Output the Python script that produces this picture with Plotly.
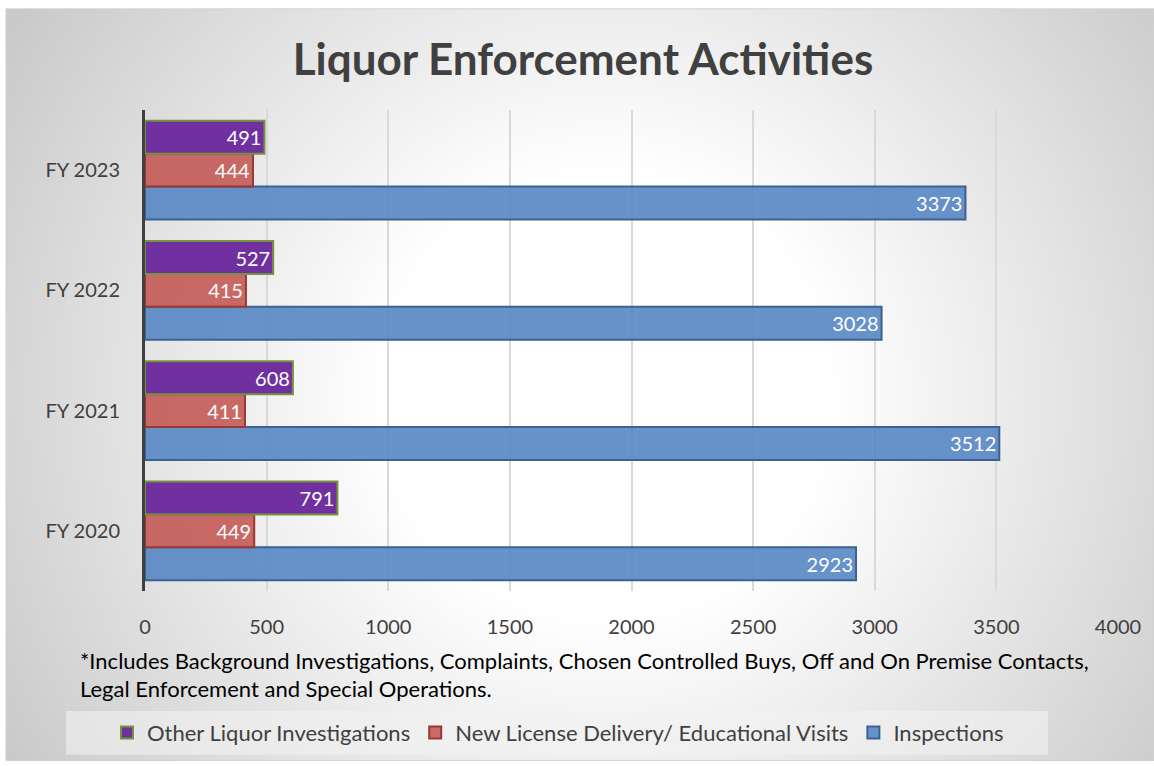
import base64
import plotly.graph_objects as go

# ---- data ----
categories = ["FY 2020", "FY 2021", "FY 2022", "FY 2023"]
inspections = [2923, 3512, 3028, 3373]
new_license_visits = [449, 411, 415, 444]
other_investigations = [791, 608, 527, 491]
x_ticks = [0, 500, 1000, 1500, 2000, 2500, 3000, 3500, 4000]

# ---- geometry (pixels) ----
W, H = 1154, 766
ML, MR, MT, MB = 145, 36, 110, 171
PW, PH = W - ML - MR, H - MT - MB


def px(x):
    return (x - ML) / PW


def py(y):
    return (H - MB - y) / PH


FONT = "Lato, 'Open Sans', sans-serif"
TXT = "#404040"

# radial-gradient chart background as an inline SVG
bw, bh = W - 6, H - 8
svg = (
    f'<svg xmlns="http://www.w3.org/2000/svg" width="{bw}" height="{bh}" '
    f'viewBox="0 0 {bw} {bh}" preserveAspectRatio="none">'
    '<defs><radialGradient id="g" gradientUnits="userSpaceOnUse" '
    f'cx="600" cy="390" r="740">'
    '<stop offset="0" stop-color="#ffffff"/>'
    '<stop offset="0.3" stop-color="#ffffff"/>'
    '<stop offset="1" stop-color="#c5c5c5"/>'
    '</radialGradient></defs>'
    f'<rect width="{bw}" height="{bh}" fill="url(#g)"/></svg>'
)
bg_uri = "data:image/svg+xml;base64," + base64.b64encode(svg.encode()).decode()

series = [
    ("Inspections", inspections, "rgba(88,134,196,0.9)", "#3B6290"),
    ("New License Delivery/ Educational Visits", new_license_visits,
     "rgba(196,86,82,0.88)", "#9A3835"),
    ("Other Liquor Investigations", other_investigations, "#7030A0", "#77933C"),
]

fig = go.Figure()
for name, vals, fill, edge in series:
    fig.add_trace(go.Bar(
        name=name,
        y=categories,
        x=vals,
        orientation="h",
        marker=dict(color=fill, line=dict(color=edge, width=2)),
        text=[str(v) for v in vals],
        textposition="inside",
        insidetextanchor="end",
        textangle=0,
        textfont=dict(family=FONT, size=20, color="white"),
        cliponaxis=False,
    ))

fig.update_layout(
    width=W, height=H,
    margin=dict(l=ML, r=MR, t=MT, b=MB),
    paper_bgcolor="white",
    plot_bgcolor="rgba(0,0,0,0)",
    barmode="group",
    bargap=0.18,
    bargroupgap=0,
    font=dict(family=FONT, color=TXT),
    title=dict(
        text="<b>Liquor Enforcement Activities</b>",
        font=dict(family=FONT, size=44, color=TXT),
        x=px(583), xref="paper", xanchor="center",
        y=1 - 60 / H, yref="container", yanchor="middle",
    ),
    xaxis=dict(
        range=[0, 4000],
        tickvals=x_ticks,
        ticktext=[str(t) for t in x_ticks],
        showgrid=True, gridcolor="#D9D9D9", gridwidth=2,
        zeroline=False, showline=False,
        tickfont=dict(family=FONT, size=20, color=TXT),
        ticklabelstandoff=22,
    ),
    yaxis=dict(
        categoryorder="array", categoryarray=categories,
        showgrid=False, zeroline=False,
        showline=True, linecolor="#404040", linewidth=3,
        tickfont=dict(family=FONT, size=20, color=TXT),
        ticklabelstandoff=18,
    ),
    legend=dict(
        orientation="h",
        traceorder="reversed",
        x=px(558), xanchor="center",
        y=py(738), yanchor="middle",
        bgcolor="rgba(0,0,0,0)",
        font=dict(family=FONT, size=22, color=TXT),
    ),
    images=[dict(
        source=bg_uri, xref="paper", yref="paper",
        x=px(6), y=py(8), sizex=bw / PW, sizey=bh / PH,
        xanchor="left", yanchor="top", sizing="stretch", layer="below",
    )],
    shapes=[
        dict(type="rect", xref="paper", yref="paper",
             x0=px(6), x1=px(W), y0=py(8), y1=py(H),
             line=dict(color="#D0D0D0", width=1), fillcolor="rgba(0,0,0,0)",
             layer="below"),
        dict(type="rect", xref="paper", yref="paper",
             x0=px(66), x1=px(1048), y0=py(716), y1=py(760),
             line=dict(width=0), fillcolor="rgba(242,242,242,0.6)",
             layer="below"),
    ],
    annotations=[
        dict(text="*Includes Background Investigations, Complaints, Chosen Controlled Buys, "
                  "Off and On Premise Contacts,",
             xref="paper", yref="paper", x=px(78), y=py(665),
             xanchor="left", yanchor="middle", showarrow=False,
             font=dict(family=FONT, size=22, color="black")),
        dict(text="Legal Enforcement and Special Operations.",
             xref="paper", yref="paper", x=px(78), y=py(693),
             xanchor="left", yanchor="middle", showarrow=False,
             font=dict(family=FONT, size=22, color="black")),
    ],
)

fig.write_html("out.html")
